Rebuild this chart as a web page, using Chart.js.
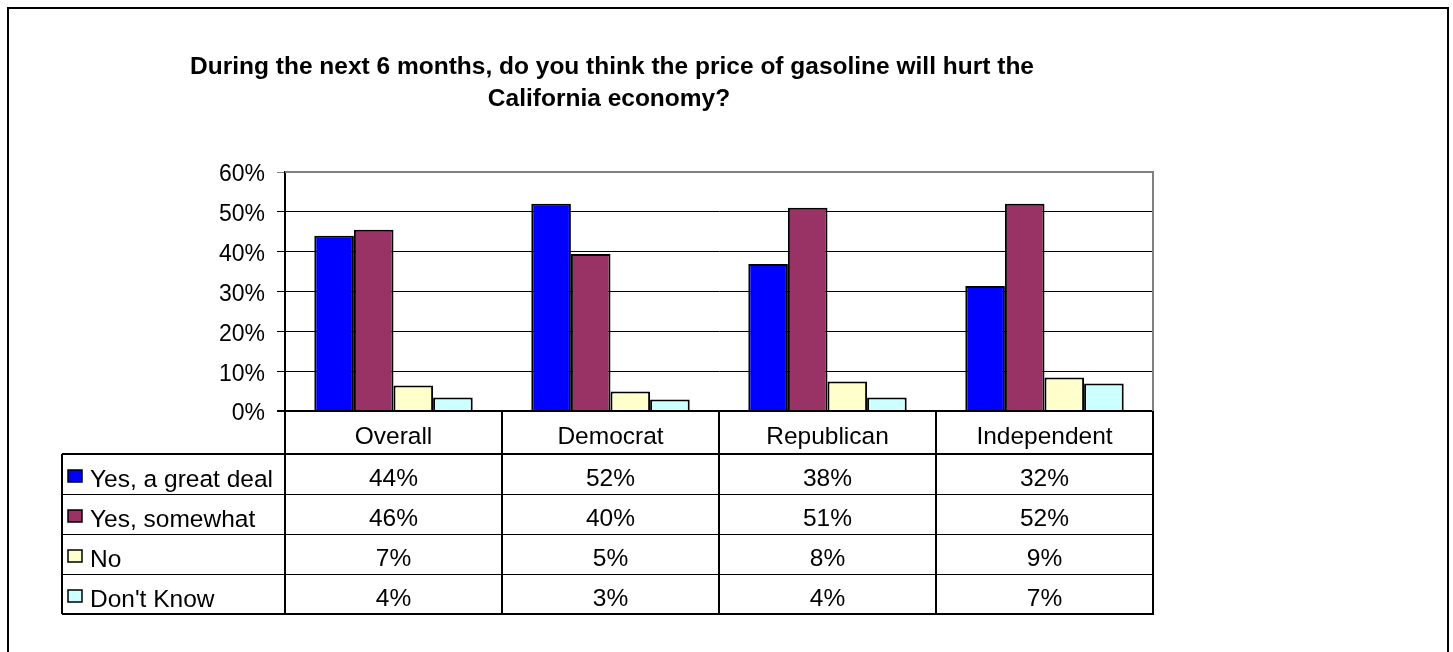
<!DOCTYPE html>
<html>
<head>
<meta charset="utf-8">
<script src="https://cdn.jsdelivr.net/npm/chart.js@4/dist/chart.umd.min.js"></script>
<style>
  html, body { margin: 0; padding: 0; background: #fff; overflow: hidden; }
  #wrap { position: relative; width: 1453px; height: 652px; }
</style>
</head>
<body>
<div id="wrap"><canvas id="gasChart" width="1453" height="652"></canvas></div>
<script>
// gas price survey chart

const categories = ['Overall', 'Democrat', 'Republican', 'Independent'];
const seriesNames = ['Yes, a great deal', 'Yes, somewhat', 'No', "Don't Know"];

// bar heights
const yesGreatDeal = [44.0, 52.0, 36.9, 31.4];
const yesSomewhat = [45.5, 39.4, 51.0, 52.0];
const noAnswer = [6.4, 4.9, 7.4, 8.4];
const dontKnow = [3.4, 2.9, 3.4, 6.9];

// numbers printed in the data table
const tableGreatDeal = ['44%', '52%', '38%', '32%'];
const tableSomewhat = ['46%', '40%', '51%', '52%'];
const tableNo = ['7%', '5%', '8%', '9%'];
const tableDontKnow = ['4%', '3%', '4%', '7%'];

const yTicks = [0, 10, 20, 30, 40, 50, 60];

const titleLines = [
  'During the next 6 months, do you think the price of gasoline will hurt the',
  'California economy?'
];

const seriesColors = ['#0000ff', '#993366', '#ffffcc', '#ccffff'];
const FONT = "'Liberation Sans', Arial, sans-serif";

// title, frame, plot border and the data table under the axis
const tablePlugin = {
  id: 'tablePlugin',
  beforeDraw(chart) {
    const ctx = chart.ctx;
    ctx.save();
    ctx.fillStyle = '#fff';
    ctx.fillRect(0, 0, chart.width, chart.height);
    ctx.strokeStyle = '#000';
    ctx.lineWidth = 2;
    ctx.strokeRect(8, 8, 1440, 700);
    ctx.restore();
  },
  afterDraw(chart) {
    const ctx = chart.ctx;
    const area = chart.chartArea;
    ctx.save();

    // title
    ctx.fillStyle = '#000';
    ctx.font = 'bold 24.5px ' + FONT;
    ctx.textAlign = 'center';
    ctx.textBaseline = 'alphabetic';
    ctx.fillText(titleLines[0], 612, 74);
    ctx.fillText(titleLines[1], 609, 106);

    // gray plot border top / right
    ctx.strokeStyle = '#808080';
    ctx.lineWidth = 2;
    ctx.beginPath();
    ctx.moveTo(area.left, area.top);
    ctx.lineTo(area.right, area.top);
    ctx.lineTo(area.right, area.bottom);
    ctx.stroke();

    // table
    const rows = [tableGreatDeal, tableSomewhat, tableNo, tableDontKnow];
    const colW = (area.right - area.left) / categories.length;
    const headTop = area.bottom;
    const headBottom = headTop + 43;
    const rowH = 40;
    const tableLeft = 62;
    const tableBottom = headBottom + rowH * rows.length;

    ctx.strokeStyle = '#000';
    ctx.lineWidth = 2;
    ctx.beginPath();
    for (let i = 0; i <= categories.length; i++) {
      const x = Math.round(area.left + colW * i);
      ctx.moveTo(x, headTop);
      ctx.lineTo(x, tableBottom);
    }
    ctx.moveTo(tableLeft, headBottom);
    ctx.lineTo(tableLeft, tableBottom);
    ctx.moveTo(tableLeft, headBottom);
    ctx.lineTo(area.right, headBottom);
    ctx.moveTo(tableLeft, tableBottom);
    ctx.lineTo(area.right + 1, tableBottom);
    ctx.stroke();

    ctx.lineWidth = 1.2;
    ctx.beginPath();
    for (let r = 1; r < rows.length; r++) {
      const y = Math.round(headBottom + rowH * r) + 0.5;
      ctx.moveTo(tableLeft, y);
      ctx.lineTo(area.right, y);
    }
    ctx.stroke();

    ctx.font = '24.5px ' + FONT;
    ctx.fillStyle = '#000';
    ctx.textAlign = 'center';
    categories.forEach((c, i) => {
      ctx.fillText(c, area.left + colW * (i + 0.5), headBottom - 10);
    });
    rows.forEach((row, r) => {
      const y = headBottom + rowH * (r + 1) - 8.5;
      row.forEach((txt, i) => {
        ctx.fillText(txt, area.left + colW * (i + 0.5), y);
      });
    });

    // legend keys
    ctx.textAlign = 'left';
    seriesNames.forEach((name, r) => {
      const top = headBottom + rowH * r;
      ctx.fillStyle = seriesColors[r];
      ctx.fillRect(68, top + 16, 14, 12);
      ctx.strokeStyle = '#000';
      ctx.lineWidth = 1.5;
      ctx.strokeRect(68, top + 16, 14, 12);
      ctx.fillStyle = '#000';
      ctx.fillText(name, 90, top + rowH - 7);
    });

    ctx.restore();
  }
};

const seriesData = [yesGreatDeal, yesSomewhat, noAnswer, dontKnow];

new Chart(document.getElementById('gasChart').getContext('2d'), {
  type: 'bar',
  data: {
    labels: categories,
    datasets: seriesNames.map((name, i) => ({
      label: name,
      data: seriesData[i],
      backgroundColor: seriesColors[i],
      borderColor: '#000',
      borderWidth: 2,
      barPercentage: 1,
      categoryPercentage: 0.73
    }))
  },
  options: {
    responsive: false,
    animation: false,
    layout: {
      padding: { left: 200, right: 300, top: 172, bottom: 241 }
    },
    plugins: {
      legend: { display: false },
      title: { display: false },
      tooltip: { enabled: false }
    },
    scales: {
      x: {
        display: false
      },
      y: {
        min: 0,
        max: 60,
        afterFit: scale => { scale.width = 85; },
        afterBuildTicks: scale => {
          scale.ticks = yTicks.map(v => ({ value: v }));
        },
        ticks: {
          padding: 12,
          labelOffset: 3,
          color: '#000',
          font: { family: FONT, size: 23 },
          callback: v => v + '%'
        },
        grid: {
          color: ctx => (ctx.tick && ctx.tick.value === 60 ? '#808080' : '#000'),
          lineWidth: ctx => (ctx.tick && ctx.tick.value === 0 ? 2 : 1),
          tickLength: 8
        },
        border: { color: '#000', width: 2 }
      }
    }
  },
  plugins: [tablePlugin]
});
</script>
</body>
</html>
